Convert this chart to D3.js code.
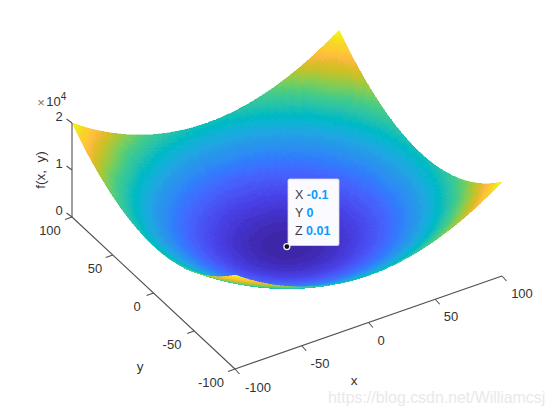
<!DOCTYPE html>
<html><head><meta charset="utf-8">
<script src="https://cdnjs.cloudflare.com/ajax/libs/d3/7.8.5/d3.min.js"></script>
<style>html,body{margin:0;padding:0;background:#fff}svg{display:block}text{font-family:"Liberation Sans",Arial,sans-serif}</style>
</head><body><div id="chart"></div>
<script>
const xGrid=[-100,-90,-80,-70,-60,-50,-40,-30,-20,-10,0,10,20,30,40,50,60,70,80,90,100];
const yGrid=[-100,-90,-80,-70,-60,-50,-40,-30,-20,-10,0,10,20,30,40,50,60,70,80,90,100];
const zTable=[
[20000,18100,16400,14900,13600,12500,11600,10900,10400,10100,10000,10100,10400,10900,11600,12500,13600,14900,16400,18100,20000],
[18100,16200,14500,13000,11700,10600,9700,9000,8500,8200,8100,8200,8500,9000,9700,10600,11700,13000,14500,16200,18100],
[16400,14500,12800,11300,10000,8900,8000,7300,6800,6500,6400,6500,6800,7300,8000,8900,10000,11300,12800,14500,16400],
[14900,13000,11300,9800,8500,7400,6500,5800,5300,5000,4900,5000,5300,5800,6500,7400,8500,9800,11300,13000,14900],
[13600,11700,10000,8500,7200,6100,5200,4500,4000,3700,3600,3700,4000,4500,5200,6100,7200,8500,10000,11700,13600],
[12500,10600,8900,7400,6100,5000,4100,3400,2900,2600,2500,2600,2900,3400,4100,5000,6100,7400,8900,10600,12500],
[11600,9700,8000,6500,5200,4100,3200,2500,2000,1700,1600,1700,2000,2500,3200,4100,5200,6500,8000,9700,11600],
[10900,9000,7300,5800,4500,3400,2500,1800,1300,1000,900,1000,1300,1800,2500,3400,4500,5800,7300,9000,10900],
[10400,8500,6800,5300,4000,2900,2000,1300,800,500,400,500,800,1300,2000,2900,4000,5300,6800,8500,10400],
[10100,8200,6500,5000,3700,2600,1700,1000,500,200,100,200,500,1000,1700,2600,3700,5000,6500,8200,10100],
[10000,8100,6400,4900,3600,2500,1600,900,400,100,0,100,400,900,1600,2500,3600,4900,6400,8100,10000],
[10100,8200,6500,5000,3700,2600,1700,1000,500,200,100,200,500,1000,1700,2600,3700,5000,6500,8200,10100],
[10400,8500,6800,5300,4000,2900,2000,1300,800,500,400,500,800,1300,2000,2900,4000,5300,6800,8500,10400],
[10900,9000,7300,5800,4500,3400,2500,1800,1300,1000,900,1000,1300,1800,2500,3400,4500,5800,7300,9000,10900],
[11600,9700,8000,6500,5200,4100,3200,2500,2000,1700,1600,1700,2000,2500,3200,4100,5200,6500,8000,9700,11600],
[12500,10600,8900,7400,6100,5000,4100,3400,2900,2600,2500,2600,2900,3400,4100,5000,6100,7400,8900,10600,12500],
[13600,11700,10000,8500,7200,6100,5200,4500,4000,3700,3600,3700,4000,4500,5200,6100,7200,8500,10000,11700,13600],
[14900,13000,11300,9800,8500,7400,6500,5800,5300,5000,4900,5000,5300,5800,6500,7400,8500,9800,11300,13000,14900],
[16400,14500,12800,11300,10000,8900,8000,7300,6800,6500,6400,6500,6800,7300,8000,8900,10000,11300,12800,14500,16400],
[18100,16200,14500,13000,11700,10600,9700,9000,8500,8200,8100,8200,8500,9000,9700,10600,11700,13000,14500,16200,18100],
[20000,18100,16400,14900,13600,12500,11600,10900,10400,10100,10000,10100,10400,10900,11600,12500,13600,14900,16400,18100,20000]
];
const xTicks=[-100,-50,0,50,100];
const yTicks=[-100,-50,0,50,100];
const zTicks=[0,10000,20000];
const zTickLabels=["0","1","2"];
const cursorX=-0.1, cursorY=0, cursorZ=0.01;
const cursorRows=[["X","-0.1"],["Y","0"],["Z","0.01"]];
const parula=["#3e26a8","#402aB4","#4230c0","#4332cb","#4537d5","#463cde","#4741e5","#4747eb","#484df0","#4852f4","#4758f8","#465efb","#4563fc","#4269fe","#3e6fff","#3875fe","#327bfc","#2f81f9","#2d87f7","#2d8cf3","#2b91ef","#2796eb","#2599e8","#239fe5","#20a5e3","#1ca9df","#18adda","#11b1d6","#08b5d0","#01b8ca","#02bac3","#0bbdbc","#19bfb5","#24c1ae","#2cc3a7","#31c69f","#37c897","#3fca8e","#4acb84","#57cc7a","#64cd6f","#72cd64","#80cc59","#8fcb4e","#9dc942","#abc739","#b9c431","#c5c22a","#d1bf27","#dcbd29","#e6bb2d","#efba36","#f8ba3d","#fcbe3c","#fdc338","#feca33","#fcce2e","#f9d329","#f7d924","#f5de21","#f5e41d","#f6eb18","#f7f212","#f9fb15"];

const W=554,H=415;
const origin=[287,246.5];
const sxX=d3.scaleLinear().domain([-100,100]).range([-133.5,133.5]);
const syX=d3.scaleLinear().domain([-100,100]).range([46.5,-46.5]);
const sxY=d3.scaleLinear().domain([-100,100]).range([81.5,-81.5]);
const syY=d3.scaleLinear().domain([-100,100]).range([76,-76]);
const syZ=d3.scaleLinear().domain([0,20000]).range([0,-94]);
const project=(x,y,z)=>[origin[0]+sxX(x)+sxY(y),origin[1]+syX(x)+syY(y)+syZ(z)];
const colour=d3.scaleQuantize().domain([0,20000]).range(parula);
const shadeSteps=5;
const facets=[];
for(let j=0;j<yGrid.length-1;j++)for(let i=0;i<xGrid.length-1;i++){
  const x0=xGrid[i],x1=xGrid[i+1],y0=yGrid[j],y1=yGrid[j+1];
  const z00=zTable[j][i],z10=zTable[j][i+1],z01=zTable[j+1][i],z11=zTable[j+1][i+1];
  const at=(a,b)=>{
    const x=x0+(x1-x0)*a,y=y0+(y1-y0)*b;
    const z=(z00*(1-a)+z10*a)*(1-b)+(z01*(1-a)+z11*a)*b;
    return {x,y,z};
  };
  for(let q=0;q<shadeSteps;q++)for(let p=0;p<shadeSteps;p++){
    const a=p/shadeSteps,b=q/shadeSteps,s=1/shadeSteps;
    const c=[at(a,b),at(a+s,b),at(a+s,b+s),at(a,b+s)];
    const m=at(a+s/2,b+s/2);
    facets.push({pts:c.map(v=>project(v.x,v.y,v.z)),z:m.z,depth:163*m.x+267*m.y});
  }
}
facets.sort((u,v)=>d3.descending(u.depth,v.depth));

const svg=d3.select("#chart").append("svg").attr("width",W).attr("height",H).attr("viewBox",[0,0,W,H]);
const defs=svg.append("defs");
defs.append("filter").attr("id","soft").attr("x","-5%").attr("y","-5%").attr("width","110%").attr("height","110%")
  .append("feGaussianBlur").attr("stdDeviation",0.55);
const line=d3.line();
svg.append("g").attr("class","surface").attr("filter","url(#soft)").attr("shape-rendering","crispEdges")
  .selectAll("path").data(facets).join("path")
  .attr("d",d=>line(d.pts)+"Z").attr("fill",d=>colour(d.z)).attr("stroke",d=>colour(d.z)).attr("stroke-width",0.4);

const axisColour="#505050",textColour="#333333";
const ax=svg.append("g").attr("class","axes").attr("stroke",axisColour).attr("stroke-width",1.1).attr("fill","none");
const seg=(a,b)=>ax.append("path").attr("d",line([a,b]));
seg(project(-100,-100,0),project(100,-100,0));
seg(project(-100,-100,0),project(-100,100,0));
seg(project(-100,100,0),project(-100,100,20000));
xTicks.forEach(v=>{const p=project(v,-100,0);seg(p,[p[0]+4.5,p[1]+5]);});
yTicks.forEach(v=>{const p=project(-100,v,0);seg(p,[p[0]-7,p[1]+2.4]);});
zTicks.forEach(v=>{const p=project(-100,100,v);seg(p,[p[0]-5.5,p[1]-4]);});

const label=(t,x,y,o={})=>svg.append("text").attr("x",x).attr("y",y).attr("text-anchor",o.anchor||"middle")
  .attr("dominant-baseline","central").attr("font-size",o.size||13).attr("fill",o.fill||textColour).text(t);
const xLabelPos=[[258,387],[320,363],[381,340],[451,316],[522,293]];
xTicks.forEach((v,i)=>label(String(v),xLabelPos[i][0],xLabelPos[i][1]));
const yLabelPos=[[211,382],[172,344],[137,306],[95,268],[50,230]];
yTicks.forEach((v,i)=>label(String(v),yLabelPos[i][0],yLabelPos[i][1]));
zTicks.forEach((v,i)=>label(zTickLabels[i],59,[210,163,116][i]));
label("x",354,380,{size:13.5});
label("y",140,366,{size:13.5});
svg.append("text").attr("transform","translate(40,170) rotate(-90)").attr("text-anchor","middle").attr("dominant-baseline","central")
  .attr("font-size",13.5).attr("fill",textColour).attr("xml:space","preserve").text("f(x,  y)");
label("×",41,102,{size:13,fill:"#777"});
label("10",53.5,101.5);
label("4",63.5,96,{size:10});

const tip=svg.append("g").attr("class","datatip");
tip.append("rect").attr("x",288).attr("y",179).attr("width",51).attr("height",66.5).attr("rx",1.5)
  .attr("fill","#fbfbff").attr("stroke","#d9d9d9").attr("stroke-width",0.8);
cursorRows.forEach((r,i)=>{
  const t=tip.append("text").attr("x",295).attr("y",195+i*18).attr("dominant-baseline","central").attr("font-size",12.5);
  t.append("tspan").attr("fill","#404040").text(r[0]+" ");
  t.append("tspan").attr("fill","#0a9bff").attr("font-weight","bold").text(r[1]);
});
const cp=project(cursorX,cursorY,cursorZ);
svg.append("circle").attr("cx",cp[0]).attr("cy",cp[1]).attr("r",3).attr("fill","#111").attr("stroke","#f4f4e6").attr("stroke-width",1.3);

svg.append("text").attr("x",328).attr("y",397).attr("dominant-baseline","central").attr("font-size",15.9)
  .attr("fill","#e9e9e9").text("https://blog.csdn.net/Williamcsj");
</script></body></html>
